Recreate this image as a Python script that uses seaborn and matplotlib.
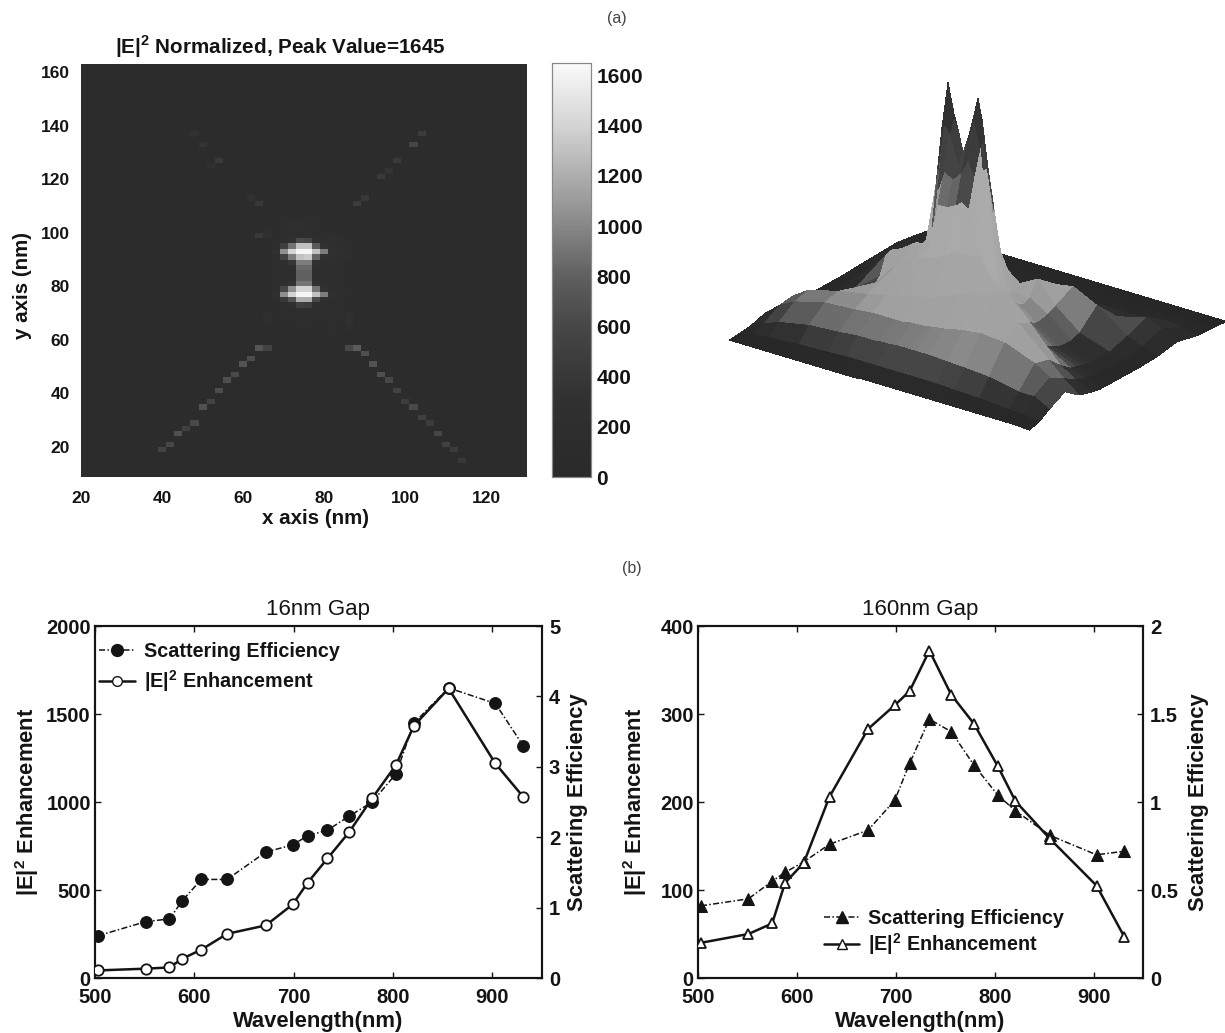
import numpy as np
import pandas as pd
import seaborn as sns
import matplotlib
matplotlib.use("Agg")
import matplotlib.pyplot as plt
from matplotlib.colors import LinearSegmentedColormap
from matplotlib.lines import Line2D

# Line chart data
wavelength = [503, 551, 575, 588, 607, 633, 672, 699, 714, 734, 756, 779, 803, 821, 856, 903, 931]
gap16_enh = [43, 53, 60, 110, 161, 251, 299, 418, 541, 679, 830, 1021, 1210, 1433, 1645, 1219, 1030]
gap16_sca = [0.60, 0.80, 0.84, 1.10, 1.40, 1.40, 1.79, 1.89, 2.02, 2.10, 2.30, 2.50, 2.90, 3.62, 4.12, 3.90, 3.30]
gap160_enh = [40, 50, 62, 108, 131, 206, 283, 310, 326, 372, 322, 289, 241, 201, 158, 105, 47]
gap160_sca = [0.41, 0.45, 0.55, 0.60, 0.66, 0.76, 0.84, 1.01, 1.22, 1.47, 1.40, 1.21, 1.04, 0.95, 0.81, 0.70, 0.72]

# Field map: dim spots along the diagonals (x nm, y nm)
spot_x = [41, 43, 45, 47, 49, 51, 53, 55, 57, 59, 60, 62, 64, 66, 87, 89, 91, 93, 95, 97, 99, 101, 103, 105, 107, 109, 111, 113, 115,
          87, 89, 91, 95, 97, 99, 103, 105, 65, 63, 55, 53, 50, 48, 67, 65]
spot_y = [19, 21, 25, 27, 29, 35, 37, 41, 45, 47, 51, 54, 57, 57, 57, 57, 55, 51, 47, 45, 41, 37, 35, 31, 29, 26, 21, 19, 16,
          99, 111, 113, 121, 123, 127, 133, 137, 111, 113, 127, 125, 133, 137, 99, 99]
spot_val = [560, 600, 680, 520, 620, 680, 560, 640, 660, 620, 700, 640, 720, 560, 600, 760, 660, 700, 660, 600, 540, 480, 620, 500, 460, 580, 520, 440, 420,
            720, 460, 400, 420, 340, 420, 580, 440, 400, 320, 420, 300, 340, 320, 480, 420]

# Field map: central region
core_x = [64, 66, 68, 70, 72, 74, 76, 78, 80, 82, 84, 86, 88]
core_y = [105, 103, 101, 99, 97, 95, 93, 91, 89, 87, 85, 83, 81, 79, 77, 75, 73, 71, 69, 67, 65, 63]
core_val = [
    [90, 90, 90, 130, 200, 220, 200, 150, 100, 90, 90, 90, 90],
    [90, 90, 100, 160, 230, 250, 220, 170, 120, 100, 90, 90, 90],
    [90, 230, 100, 150, 190, 220, 190, 150, 130, 130, 110, 100, 90],
    [90, 280, 120, 150, 190, 210, 200, 170, 180, 190, 170, 120, 90],
    [90, 110, 140, 220, 320, 620, 580, 260, 210, 230, 200, 130, 90],
    [90, 100, 170, 520, 900, 1300, 1300, 750, 300, 240, 220, 150, 90],
    [90, 100, 280, 1050, 1400, 1620, 1620, 1300, 950, 300, 230, 150, 90],
    [90, 100, 170, 560, 950, 1300, 1350, 820, 300, 240, 210, 140, 90],
    [90, 90, 140, 220, 380, 950, 950, 320, 200, 210, 190, 120, 90],
    [90, 90, 130, 170, 220, 850, 850, 230, 170, 170, 160, 110, 90],
    [90, 90, 130, 170, 200, 800, 800, 210, 160, 150, 140, 100, 90],
    [90, 90, 130, 170, 200, 800, 800, 200, 150, 150, 140, 100, 90],
    [90, 90, 140, 200, 320, 900, 900, 320, 180, 170, 170, 110, 90],
    [90, 100, 180, 600, 1050, 1400, 1400, 900, 320, 220, 200, 130, 90],
    [90, 100, 280, 1050, 1400, 1620, 1620, 1300, 950, 280, 220, 140, 90],
    [90, 100, 170, 420, 720, 1200, 1200, 620, 250, 210, 190, 120, 90],
    [90, 90, 130, 180, 260, 520, 480, 220, 160, 170, 170, 100, 90],
    [90, 100, 120, 150, 170, 200, 190, 160, 140, 150, 150, 100, 90],
    [90, 230, 110, 130, 150, 170, 160, 140, 130, 150, 140, 280, 90],
    [90, 270, 100, 110, 130, 150, 150, 120, 120, 150, 130, 300, 90],
    [90, 100, 90, 100, 110, 130, 130, 110, 120, 180, 110, 240, 90],
    [90, 90, 90, 90, 100, 110, 110, 100, 110, 170, 100, 90, 90],
]
background = 90

# Surface heights, rows along surf_x, columns along surf_y
surf_x = [0, .05, .1, .2, .3, .36, .4, .42, .44, .46, .49, .52, .54, .56, .6, .66, .72, .8, .9, .95, 1]
surf_y = [0, .05, .1, .18, .25, .31, .36, .39, .42, .44, .46, .49, .52, .56, .65, .75, .85, .92, 1]
surf_z = [
    [0, 1, 2, 7, 4, 3, 2, 2, 2, 2, 2, 2, 2, 2, 3, 4, 5, 3, 0],
    [0, 4, 10, 20, 22, 10, 6, 5, 5, 4, 4, 4, 4, 5, 8, 10, 6, 3, 0],
    [0, 6, 16, 28, 32, 18, 11, 9, 9, 8, 8, 8, 8, 10, 16, 12, 6, 3, 0],
    [0, 8, 22, 36, 40, 36, 26, 24, 26, 28, 32, 50, 52, 45, 20, 8, 5, 3, 0],
    [0, 9, 24, 38, 46, 52, 56, 60, 62, 66, 70, 72, 66, 48, 22, 8, 5, 3, 0],
    [0, 10, 26, 40, 50, 62, 60, 62, 70, 72, 80, 75, 70, 50, 18, 7, 4, 2, 0],
    [0, 10, 26, 40, 54, 75, 90, 95, 100, 145, 170, 135, 95, 55, 17, 7, 4, 2, 0],
    [0, 10, 26, 40, 55, 85, 100, 110, 165, 205, 205, 150, 105, 58, 17, 7, 4, 2, 0],
    [1, 10, 27, 40, 56, 90, 100, 150, 215, 252, 225, 165, 110, 60, 17, 8, 4, 2, 0],
    [1, 10, 27, 40, 58, 92, 140, 170, 205, 222, 205, 160, 110, 62, 17, 8, 4, 2, 0],
    [1, 10, 28, 42, 60, 95, 140, 165, 175, 172, 165, 150, 115, 70, 18, 8, 4, 2, 0],
    [1, 10, 28, 42, 62, 100, 145, 175, 205, 218, 205, 165, 120, 78, 20, 8, 4, 2, 0],
    [1, 10, 28, 43, 66, 105, 150, 190, 228, 245, 222, 170, 122, 70, 22, 9, 4, 2, 0],
    [1, 10, 28, 44, 68, 105, 145, 175, 200, 205, 170, 130, 85, 60, 24, 9, 4, 2, 0],
    [1, 10, 28, 46, 72, 105, 100, 85, 70, 58, 50, 46, 46, 50, 28, 9, 4, 2, 0],
    [1, 10, 27, 50, 80, 92, 70, 60, 55, 50, 46, 42, 45, 60, 45, 12, 4, 2, 0],
    [1, 9, 26, 52, 85, 80, 60, 45, 38, 34, 32, 32, 34, 38, 48, 14, 4, 2, 0],
    [1, 8, 24, 50, 62, 55, 32, 24, 20, 18, 16, 15, 15, 18, 36, 14, 4, 2, 0],
    [1, 6, 18, 38, 34, 22, 14, 12, 10, 9, 9, 8, 8, 8, 14, 22, 8, 2, 0],
    [1, 5, 18, 28, 20, 12, 8, 7, 6, 6, 5, 5, 5, 5, 8, 15, 6, 2, 0],
    [0, 3, 10, 19, 8, 4, 2, 2, 2, 2, 2, 2, 2, 2, 3, 7, 2, 1, 0],
]

W, H = 1225, 1033
INK = "#141414"

sns.set_theme(style="ticks")
plt.rcParams["font.family"] = ["Liberation Sans", "DejaVu Sans"]
plt.rcParams["font.weight"] = "bold"
plt.rcParams["axes.labelweight"] = "bold"
plt.rcParams["mathtext.fontset"] = "custom"
plt.rcParams["mathtext.bf"] = "Liberation Sans:bold"
plt.rcParams["mathtext.rm"] = "Liberation Sans:bold"
plt.rcParams["text.color"] = INK
plt.rcParams["axes.labelcolor"] = INK
plt.rcParams["xtick.color"] = INK
plt.rcParams["ytick.color"] = INK
plt.rcParams["axes.edgecolor"] = INK


def rect(left, top, right, bottom):
    return [left / W, 1 - bottom / H, (right - left) / W, (bottom - top) / H]


fig = plt.figure(figsize=(W / 100, H / 100), dpi=100, facecolor="white")

# (a) surface, drawn first so the transparent axes sit under the rest
surf_map = LinearSegmentedColormap.from_list(
    "surf",
    [(0, "#262626"), (0.05, "#303030"), (0.11, "#666666"), (0.18, "#a0a0a0"), (0.53, "#ababab"),
     (0.58, "#888888"), (0.65, "#4a4a4a"), (1, "#262626")],
)
ax_3d = fig.add_axes(rect(623.5, -129.5, 1313.5, 560.5), projection="3d")
ax_3d.set_proj_type("ortho")
ax_3d.view_init(elev=24, azim=-53.6)
ax_3d.set_box_aspect((373, 332, 273), zoom=0.8)
sx_grid, sy_grid = np.meshgrid(surf_x, surf_y, indexing="ij")
ax_3d.plot_surface(sx_grid, sy_grid, np.array(surf_z, dtype=float), cmap=surf_map, vmin=0, vmax=252,
                   rstride=1, cstride=1, linewidth=0, antialiased=False, shade=False)
ax_3d.set_xlim(0, 1)
ax_3d.set_ylim(0, 1)
ax_3d.set_zlim(0, 252)
ax_3d.set_axis_off()
ax_3d.patch.set_alpha(0)

# (a) field map
field_x = np.arange(20, 131, 2)
field_y = np.arange(9, 164, 2)
field = np.full((len(field_y), len(field_x)), float(background))
for sx, sy, sv in zip(spot_x, spot_y, spot_val):
    field[np.abs(field_y - sy).argmin(), np.abs(field_x - sx).argmin()] = sv
for i, cy in enumerate(core_y):
    for j, cx in enumerate(core_x):
        if core_val[i][j] != background:
            field[np.abs(field_y - cy).argmin(), np.abs(field_x - cx).argmin()] = core_val[i][j]
field_df = pd.DataFrame(field, index=field_y, columns=field_x)

gray_map = LinearSegmentedColormap.from_list(
    "field",
    [(0, "#2a2a2a"), (0.18, "#303030"), (0.36, "#464646"), (0.48, "#5e5e5e"), (0.6, "#858585"),
     (0.72, "#ababab"), (0.85, "#d4d4d4"), (1, "#fafafa")],
)
ax_map = fig.add_axes(rect(81, 64, 527, 477))
ax_cb = fig.add_axes(rect(552, 63, 591, 477))
sns.heatmap(field_df, ax=ax_map, cbar_ax=ax_cb, cmap=gray_map, vmin=0, vmax=1650,
            xticklabels=False, yticklabels=False, rasterized=True)
ax_map.set_xticks([(v - 19) / 2 for v in range(20, 121, 20)])
ax_map.set_xticklabels(list(range(20, 121, 20)), rotation=0, fontsize=12.5)
ax_map.set_yticks([(v - 8) / 2 for v in range(20, 161, 20)])
ax_map.set_yticklabels(list(range(20, 161, 20)), rotation=0, fontsize=12.5)
ax_map.set_xlim((20 - 19) / 2, (130 - 19) / 2)
ax_map.set_ylim((8.8 - 8) / 2, (163 - 8) / 2)
ax_map.tick_params(length=0, pad=8)
ax_map.tick_params(axis="x", pad=10)
ax_map.set_xlabel("x axis (nm)", fontsize=14.8, labelpad=2, x=0.525)
ax_map.set_ylabel("y axis (nm)", fontsize=14.8, labelpad=6, y=0.4625)
ax_map.set_title(r"|E|$^{\mathbf{2}}$ Normalized, Peak Value=1645", fontsize=14.9, fontweight="bold", pad=7, x=0.446)
ax_cb.set_yticks(list(range(0, 1601, 200)))
ax_cb.tick_params(labelsize=15, length=0, pad=4, right=True, labelright=True)
for sp in ax_cb.spines.values():
    sp.set_visible(True)
    sp.set_color("#888888")
    sp.set_linewidth(0.8)


def gap_panel(box, enh, sca, enh_max, sca_max, sca_ticks, sca_labels, marker, title, legend_anchor, spacing, pads):
    ax = fig.add_axes(rect(*box))
    twin = ax.twinx()
    sns.lineplot(x=wavelength, y=enh, ax=ax, color=INK, linewidth=1.8, marker=marker, markersize=7.5,
                 markerfacecolor="white", markeredgecolor=INK, markeredgewidth=1.3, errorbar=None, zorder=4)
    sns.lineplot(x=wavelength, y=sca, ax=twin, color=INK, linewidth=1.1, linestyle=(0, (4, 1.5, 1, 1.5)),
                 marker=marker, markersize=8.5, markerfacecolor=INK, markeredgecolor=INK, errorbar=None, zorder=3)
    ax.set_zorder(twin.get_zorder() + 1)
    ax.patch.set_visible(False)
    ax.set_xlim(500, 950)
    ax.set_ylim(0, enh_max)
    twin.set_ylim(0, sca_max)
    ax.set_xticks([500, 600, 700, 800, 900])
    ax.set_yticks(np.linspace(0, enh_max, 5))
    ax.set_yticklabels([str(int(v)) for v in np.linspace(0, enh_max, 5)])
    twin.set_yticks(sca_ticks)
    twin.set_yticklabels(sca_labels)
    ax.tick_params(direction="in", length=4, width=1, labelsize=14.5, pad=3, top=True)
    ax.tick_params(axis="x", pad=7)
    twin.tick_params(direction="in", length=4, width=1, labelsize=14.5, pad=5)
    for a in (ax, twin):
        for sp in a.spines.values():
            sp.set_linewidth(1.5)
    ax.set_xlabel("Wavelength(nm)", fontsize=15.8, labelpad=3)
    ax.set_ylabel(r"|E|$^{\mathbf{2}}$ Enhancement", fontsize=15.8, labelpad=pads[0])
    twin.set_ylabel("Scattering Efficiency", fontsize=15.8, labelpad=pads[1])
    ax.set_title(title, fontsize=16, fontweight="normal", pad=8)
    handles = [
        Line2D([], [], color=INK, linewidth=1.1, linestyle=(0, (4, 1.5, 1, 1.5)), marker=marker, markersize=8.5,
               markerfacecolor=INK, label="Scattering Efficiency"),
        Line2D([], [], color=INK, linewidth=1.8, marker=marker, markersize=7, markerfacecolor="white",
               markeredgecolor=INK, label=r"|E|$^{\mathbf{2}}$ Enhancement"),
    ]
    ax.legend(handles=handles, loc="upper left", bbox_to_anchor=legend_anchor, frameon=False, fontsize=14.2,
              handlelength=1.8, labelspacing=spacing, handletextpad=0.45, borderpad=0, borderaxespad=0)


gap_panel((95, 626, 542, 978), gap16_enh, gap16_sca, 2000, 5, [0, 1, 2, 3, 4, 5], ["0", "1", "2", "3", "4", "5"],
          "o", "16nm Gap", (0.01, 0.955), 0.35, (4, 5))
gap_panel((698, 626, 1143, 978), gap160_enh, gap160_sca, 400, 2, [0, 0.5, 1, 1.5, 2], ["0", "0.5", "1", "1.5", "2"],
          "^", "160nm Gap", (0.283, 0.195), 0.15, (8, 7))

fig.text(617 / W, 1 - 18 / H, "(a)", ha="center", va="center", fontsize=11.5, fontweight="normal", color="#444444")
fig.text(632 / W, 1 - 568 / H, "(b)", ha="center", va="center", fontsize=11.5, fontweight="normal", color="#444444")

fig.savefig("out.png", dpi=100, facecolor="white")
